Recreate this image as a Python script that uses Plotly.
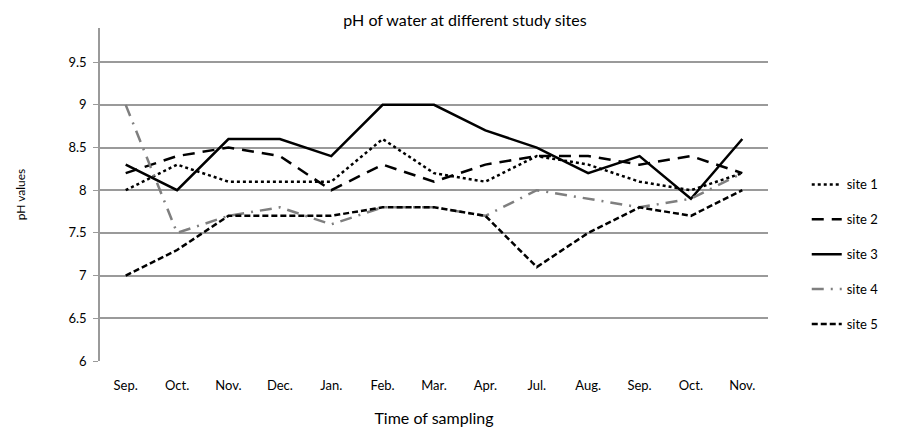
import plotly.graph_objects as go

# Sampling months (two seasons, so labels repeat)
months = ['Sep.', 'Oct.', 'Nov.', 'Dec.', 'Jan.', 'Feb.', 'Mar.', 'Apr.',
          'Jul.', 'Aug.', 'Sep.', 'Oct.', 'Nov.']
x_idx = list(range(len(months)))

site1 = [8.0, 8.3, 8.1, 8.1, 8.1, 8.6, 8.2, 8.1, 8.4, 8.3, 8.1, 8.0, 8.2]
site2 = [8.2, 8.4, 8.5, 8.4, 8.0, 8.3, 8.1, 8.3, 8.4, 8.4, 8.3, 8.4, 8.2]
site3 = [8.3, 8.0, 8.6, 8.6, 8.4, 9.0, 9.0, 8.7, 8.5, 8.2, 8.4, 7.9, 8.6]
site4 = [9.0, 7.5, 7.7, 7.8, 7.6, 7.8, 7.8, 7.7, 8.0, 7.9, 7.8, 7.9, 8.2]
site5 = [7.0, 7.3, 7.7, 7.7, 7.7, 7.8, 7.8, 7.7, 7.1, 7.5, 7.8, 7.7, 8.0]

y_ticks = [6, 6.5, 7, 7.5, 8, 8.5, 9, 9.5]

series = [
    ('site 1', site1, 'black', 'dot'),
    ('site 2', site2, 'black', '12px,8px'),
    ('site 3', site3, 'black', 'solid'),
    ('site 4', site4, '#7f7f7f', '12px,7px,2px,7px'),
    ('site 5', site5, 'black', '6px,3px'),
]

fig = go.Figure()
for name, vals, color, dash in series:
    fig.add_trace(go.Scatter(
        x=x_idx, y=vals, name=name, mode='lines',
        legendgroup=name,
        line=dict(color=color, width=2.5, dash=dash)
    ))

# page body adds an 8px margin, so the figure is sized to fit inside
fig.update_layout(
    width=914, height=433,
    margin=dict(l=89, r=154, t=20, b=80),
    paper_bgcolor='white', plot_bgcolor='white',
    font=dict(family='Lato, Open Sans, sans-serif', size=13, color='black'),
    title=dict(text='pH of water at different study sites', x=0.5, xref='container',
               xanchor='center', y=0.972, yref='container', yanchor='middle',
               font=dict(size=16)),
    showlegend=True,
    legend=dict(x=1.058, xanchor='left', y=0.32, yanchor='middle',
                tracegroupgap=15, font=dict(size=13), bgcolor='rgba(0,0,0,0)'),
    xaxis=dict(
        tickmode='array', tickvals=x_idx, ticktext=months,
        range=[-0.5, 12.5], showgrid=False, zeroline=False,
        showline=False, ticks='', ticklabelstandoff=15,
        title=dict(text='Time of sampling', standoff=20),
    ),
    yaxis=dict(
        range=[6, 9.9], tickvals=y_ticks, ticktext=[f'{v:g}' for v in y_ticks],
        showgrid=True, gridcolor='#9a9a9a', gridwidth=1.5,
        zeroline=False, showline=True, linecolor='#9a9a9a', linewidth=1.5,
        ticks='outside', ticklen=5, tickcolor='#9a9a9a', ticklabelstandoff=4,
        title=dict(text='pH values', standoff=40, font=dict(size=12)),
    ),
)

fig.write_html('out.html')
